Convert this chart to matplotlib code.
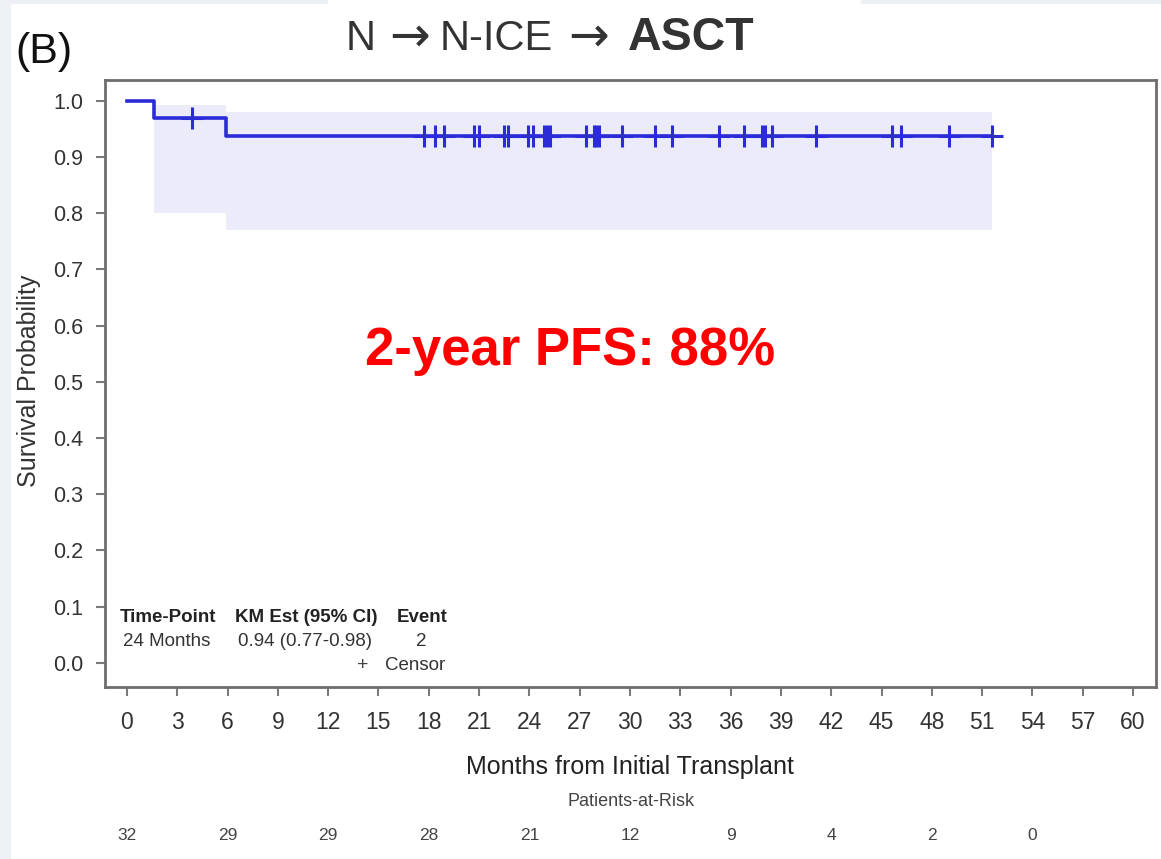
import numpy as np
import matplotlib
matplotlib.use("Agg")
import matplotlib.pyplot as plt
from matplotlib.patches import Rectangle
from matplotlib.transforms import blended_transform_factory

plt.rcParams["font.family"] = ["Liberation Sans", "DejaVu Sans"]

# ---- data -------------------------------------------------------------
event_times = [1.6, 5.9]                 # months at which PFS events occur
surv_levels = [1.0, 0.969, 0.9365]       # KM estimate before / after each event
ci_lower = [0.80, 0.77]                  # 95% CI lower bound after each event
ci_upper = [0.993, 0.98]                 # 95% CI upper bound after each event
censor_times = [3.9, 17.7, 18.4, 18.9, 20.7, 21.0, 22.5, 22.7, 23.9,
                24.2, 24.9, 25.05, 25.2, 27.4, 27.85, 28.0, 28.15, 29.5,
                31.5, 32.5, 35.3, 36.8, 37.85, 38.05, 38.45, 41.1,
                45.65, 46.15, 49.0, 51.56]
x_ticks = list(range(0, 61, 3))
y_ticks = [0.0, 0.1, 0.2, 0.3, 0.4, 0.5, 0.6, 0.7, 0.8, 0.9, 1.0]
risk_times = [0, 6, 12, 18, 24, 30, 36, 42, 48, 54]
risk_counts = [32, 29, 29, 28, 21, 12, 9, 4, 2, 0]
table_header = ["Time-Point", "KM Est (95% CI)", "Event"]
table_row = ["24 Months", "0.94 (0.77-0.98)", "2"]

W, H = 1161, 859
fig = plt.figure(figsize=(W / 100, H / 100), dpi=100, facecolor="white")

def fx(px):
    return px / W

def fy(py):
    return 1 - py / H

# pale page edges
edge = "#edf1f6"
fig.patches.append(Rectangle((0, 0), fx(10), 1, transform=fig.transFigure,
                             color=edge, zorder=0))
fig.patches.append(Rectangle((0, fy(3)), fx(327), fy(0) - fy(3),
                             transform=fig.transFigure, color=edge, zorder=0))
fig.patches.append(Rectangle((fx(861), fy(3)), 1 - fx(861), fy(0) - fy(3),
                             transform=fig.transFigure, color=edge, zorder=0))

ax = fig.add_axes([fx(105), fy(687), fx(1156) - fx(105), fy(80) - fy(687)])

blue = "#2b2bd8"
band = "#ebebfa"

# step curve
end_t = censor_times[-1]
t_steps = [0.0] + event_times + [end_t]
s_steps = surv_levels + [surv_levels[-1]]
ax.step(t_steps, s_steps, where="post", color=blue, lw=2.6, zorder=3)

# confidence band
band_t = event_times + [end_t]
ax.fill_between(band_t, ci_lower + [ci_lower[-1]], ci_upper + [ci_upper[-1]],
                step="post", color=band, lw=0, zorder=1)

# censor marks at the curve's level
idx = np.searchsorted(event_times, censor_times, side="right")
censor_y = [surv_levels[i] for i in idx]
ax.plot(censor_times, censor_y, ls="none", marker="+", ms=16, mew=2.2,
        color=blue, zorder=4)

ax.set_xlim(-1.31, 61.37)
ax.set_ylim(-0.043, 1.037)
ax.set_xticks(x_ticks)
ax.set_yticks(y_ticks)
ax.set_yticklabels([f"{v:.1f}" for v in y_ticks])

for s in ax.spines.values():
    s.set_color("#6e6e6e")
    s.set_linewidth(2.0)
ax.tick_params(direction="out", length=6.5, width=1.5, color="#7a7a7a",
               labelcolor="#333333")
ax.tick_params(axis="x", labelsize=16.5, pad=11)
ax.tick_params(axis="y", labelsize=15.5, pad=9)

ax.set_ylabel("Survival Probability", fontsize=18, color="#333333")
ax.yaxis.set_label_coords((41 - 105) / 1051, (687 - 381) / 607)
ax.set_xlabel("Months from Initial Transplant", fontsize=18, color="#222222")
ax.xaxis.set_label_coords(0.4995, (687 - 755) / 607)

# patients at risk
fig.text(fx(631), fy(801), "Patients-at-Risk", fontsize=13, color="#444444",
         ha="center", va="center")
tr = blended_transform_factory(ax.transData, fig.transFigure)
for t, n in zip(risk_times, risk_counts):
    ax.text(t, fy(835), str(n), transform=tr, fontsize=12.5, color="#444444",
            ha="center", va="center", clip_on=False)

# inset summary table
fig.text(fx(120), fy(618), table_header[0], fontsize=13.5, weight="bold",
         color="#222222", va="center", ha="left")
fig.text(fx(235), fy(618), table_header[1], fontsize=13.5, weight="bold",
         color="#222222", va="center", ha="left")
fig.text(fx(397), fy(618), table_header[2], fontsize=13.5, weight="bold",
         color="#222222", va="center", ha="left")
fig.text(fx(123), fy(642), table_row[0], fontsize=13.5, color="#333333",
         va="center", ha="left")
fig.text(fx(238), fy(642), table_row[1], fontsize=13.5, color="#333333",
         va="center", ha="left")
fig.text(fx(421), fy(642), table_row[2], fontsize=13.5, color="#333333",
         va="center", ha="center")
fig.text(fx(357), fy(665), "+", fontsize=14, color="#444444",
         va="center", ha="left")
fig.text(fx(385), fy(665), "Censor", fontsize=13.5, color="#333333",
         va="center", ha="left")

# panel letter
fig.text(fx(15), fy(63), "(B)", fontsize=31, color="#111111",
         ha="left", va="baseline")

# title: N -> N-ICE -> ASCT
title_col = "#333333"
fig.text(fx(346), fy(50), "N", fontsize=30, color=title_col,
         ha="left", va="baseline")
fig.text(fx(410), fy(51), "\u2192", fontsize=35, color=title_col,
         family="DejaVu Sans", ha="center", va="baseline")
fig.text(fx(440), fy(50), "N-ICE", fontsize=30, color=title_col,
         ha="left", va="baseline")
fig.text(fx(589), fy(51), "\u2192", fontsize=35, color=title_col,
         family="DejaVu Sans", ha="center", va="baseline")
fig.text(fx(628), fy(50), "ASCT", fontsize=33.5, weight="bold",
         color=title_col, ha="left", va="baseline")

# headline PFS
fig.text(fx(570), fy(365), "2-year PFS: 88%", fontsize=38, weight="bold",
         color="#ff0000", ha="center", va="baseline")

fig.savefig("out.png", dpi=100, facecolor=fig.get_facecolor())
